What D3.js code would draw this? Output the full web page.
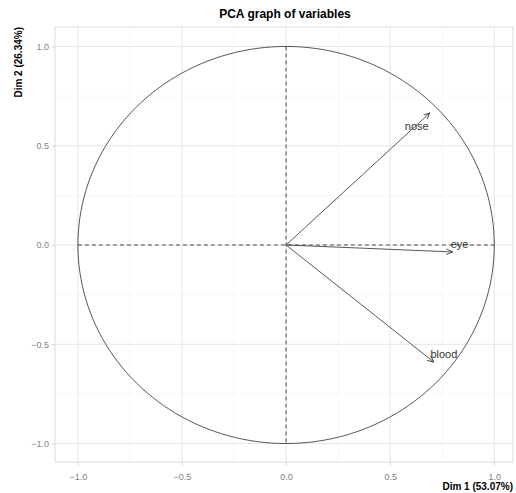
<!DOCTYPE html>
<html>
<head>
<meta charset="UTF-8">
<script src="https://d3js.org/d3.v7.min.js"></script>
<style>
body{ margin:0; background:white; font-family: "Liberation Sans", Arial, sans-serif; }
</style>
</head>
<body>
<svg width="516" height="493"></svg>
<script>
// variables and their coordinates on Dim 1 / Dim 2
const variables = ["nose", "eye", "blood"]
const dim1 = [0.69, 0.80, 0.71]
const dim2 = [0.665, -0.035, -0.59]
const majorTicks = [-1.0, -0.5, 0.0, 0.5, 1.0]
const minorTicks = [-0.75, -0.25, 0.25, 0.75]

const svg = d3.select("svg")

const x = d3.scaleLinear().domain([-1.11, 1.09]).range([55, 513])
const y = d3.scaleLinear().domain([-1.093, 1.098]).range([462, 27])

// grid
const grid = svg.append("g")
grid.selectAll(".minx").data(minorTicks).join("line")
  .attr("x1", d => x(d)).attr("x2", d => x(d)).attr("y1", 27).attr("y2", 462)
  .style("stroke", "#f0f0f0").style("stroke-width", 0.6)
grid.selectAll(".miny").data(minorTicks).join("line")
  .attr("y1", d => y(d)).attr("y2", d => y(d)).attr("x1", 55).attr("x2", 513)
  .style("stroke", "#f0f0f0").style("stroke-width", 0.6)
grid.selectAll(".majx").data(majorTicks).join("line")
  .attr("x1", d => x(d)).attr("x2", d => x(d)).attr("y1", 27).attr("y2", 462)
  .style("stroke", "#e6e6e6").style("stroke-width", 1)
grid.selectAll(".majy").data(majorTicks).join("line")
  .attr("y1", d => y(d)).attr("y2", d => y(d)).attr("x1", 55).attr("x2", 513)
  .style("stroke", "#e6e6e6").style("stroke-width", 1)

svg.append("rect").attr("x", 55).attr("y", 27).attr("width", 458).attr("height", 435)
  .style("fill", "none").style("stroke", "#dcdcdc").style("stroke-width", 1)

// axes
const xAxis = svg.append("g").attr("transform", "translate(0,462)")
  .call(d3.axisBottom(x).tickValues(majorTicks).tickFormat(d3.format(".1f")).tickSize(3))
const yAxis = svg.append("g").attr("transform", "translate(55,0)")
  .call(d3.axisLeft(y).tickValues(majorTicks).tickFormat(d3.format(".1f")).tickSize(3))
;[xAxis, yAxis].forEach(a => {
  a.select(".domain").remove()
  a.selectAll("line").style("stroke", "#cfcfcf")
  a.selectAll("text").style("fill", "#7f7f7f").style("font-size", "9px")
    .style("font-family", "Liberation Sans, Arial, sans-serif")
})
xAxis.selectAll("text").attr("dy", "1.3em")
yAxis.selectAll("text").attr("dy", "0.32em")

// dashed axes from -1 to 1
svg.append("line").attr("x1", x(-1)).attr("x2", x(1)).attr("y1", y(0)).attr("y2", y(0))
  .style("stroke", "#222").style("stroke-dasharray", "4,3").style("stroke-width", 0.8)
svg.append("line").attr("x1", x(0)).attr("x2", x(0)).attr("y1", y(1)).attr("y2", y(-1))
  .style("stroke", "#222").style("stroke-dasharray", "4,3").style("stroke-width", 0.8)

// correlation circle
const circ = d3.range(0, 361, 2).map(a => [Math.cos(a * Math.PI / 180), Math.sin(a * Math.PI / 180)])
svg.append("path")
  .attr("d", d3.line().x(d => x(d[0])).y(d => y(d[1]))(circ))
  .style("fill", "none").style("stroke", "#444").style("stroke-width", 0.9)

// arrow marker
svg.append("defs").append("marker")
  .attr("id", "arrow").attr("viewBox", "0 0 10 10").attr("refX", 9).attr("refY", 5)
  .attr("markerWidth", 7).attr("markerHeight", 7).attr("markerUnits", "userSpaceOnUse")
  .attr("orient", "auto")
  .append("path").attr("d", "M0,1 L9,5 L0,9").style("fill", "none").style("stroke", "#333").style("stroke-width", 1.2)

const data = variables.map((v, i) => ({ name: v, x: dim1[i], y: dim2[i] }))

svg.selectAll(".arr").data(data).join("line")
  .attr("x1", x(0)).attr("y1", y(0))
  .attr("x2", d => x(d.x)).attr("y2", d => y(d.y))
  .style("stroke", "#444").style("stroke-width", 0.9)
  .attr("marker-end", "url(#arrow)")

// labels
const labelOff = { nose: [-13, 13], eye: [7, -8], blood: [10, -8] }
svg.selectAll(".lab").data(data).join("text")
  .attr("x", d => x(d.x) + labelOff[d.name][0])
  .attr("y", d => y(d.y) + labelOff[d.name][1] + 4)
  .attr("text-anchor", "middle")
  .style("font-size", "11px").style("fill", "#333")
  .text(d => d.name)

// titles
svg.append("text").attr("x", 285).attr("y", 18).attr("text-anchor", "middle")
  .style("font-size", "12px").style("font-weight", "bold").text("PCA graph of variables")
svg.append("text").attr("x", 513).attr("y", 490).attr("text-anchor", "end")
  .style("font-size", "10px").style("font-weight", "bold").text("Dim 1 (53.07%)")
svg.append("text").attr("transform", "translate(22,27) rotate(-90)").attr("text-anchor", "end")
  .style("font-size", "10px").style("font-weight", "bold").text("Dim 2 (26.34%)")
</script>
</body>
</html>
